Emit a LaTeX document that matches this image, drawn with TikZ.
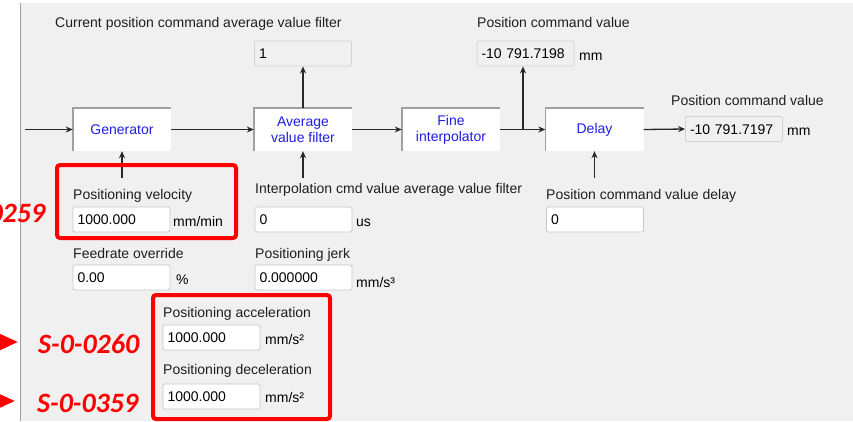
\documentclass[tikz,border=0pt]{standalone}
\usepackage{fontspec}
\setmainfont{Liberation Sans}
\newfontfamily\tagfont{Carlito}
\usetikzlibrary{arrows.meta}
\definecolor{panel}{RGB}{240,240,240}
\definecolor{frameline}{RGB}{160,160,160}
\definecolor{labeltext}{RGB}{30,30,30}
\definecolor{blocktext}{RGB}{30,30,230}
\definecolor{wire}{RGB}{40,40,40}
\definecolor{fieldline}{RGB}{200,200,200}
\definecolor{marker}{RGB}{255,0,0}
\tikzset{
  ui/.style={font=\fontsize{14}{16}\selectfont},
  lbl/.style={ui, text=labeltext, inner sep=0pt, anchor=base west},
  unit/.style={ui, text=black, inner sep=0pt, anchor=base west},
  block/.style={ui, text=blocktext, fill=white, minimum width=98pt, minimum height=43pt,
    inner sep=0pt, align=center},
  field/.style={ui, text=black, fill=white, draw=fieldline, line width=0.8pt, rounded corners=1.5pt,
    text width=88pt, inner xsep=4.5pt, inner ysep=0pt, minimum height=25pt,
    text height=10pt, text depth=0pt, align=left},
  rofield/.style={field, fill=panel, draw=fieldline!80},
  blockedge/.style={draw=frameline, line width=1.5pt},
  flow/.style={draw=wire, line width=1.3pt, -{Stealth[length=7pt,width=6pt]}},
  hilite/.style={draw=marker, line width=4pt, rounded corners=3pt},
  tag/.style={font=\tagfont\bfseries\itshape\fontsize{28}{30}\selectfont, text=marker,
    inner sep=0pt, anchor=base west},
  pointer/.style={draw=marker, line width=4pt, -{Triangle[length=20pt,width=17pt]}}
}
\begin{document}
\begin{tikzpicture}[x=1pt,y=-1pt]
\useasboundingbox (0,0) rectangle (853,421);
\clip (0,0) rectangle (853,421);
% window background and left frame
\fill[white] (0,0) rectangle (853,421);
\fill[panel] (21,3) rectangle (853,421);
\draw[frameline, line width=1.6pt] (20.5,3) -- (20.5,421);

% processing blocks
\node[block] (gen)   at (122,129.5)   {Generator};
\node[block] (avf)   at (303,129.5)   {Average\\value filter};
\node[block] (fine)  at (451,129.5)   {Fine\\interpolator};
\node[block] (delay) at (594.5,129.5) {Delay};
\foreach \b in {gen,avf,fine,delay}
  \draw[blockedge] (\b.south west) |- (\b.north east);

% read-only displays
\node[lbl] (lfilt) at (55,27) {Current position command average value filter};
\node[rofield] (filt) at (303,53.5) {1};
\node[lbl] (lcmd) at (477,27) {Position command value};
\node[rofield] (cmd) at (525.5,53.5) {-10 791.7198};
\node[unit] (ucmd) at (579,60) {mm};
\node[lbl] (lout) at (671,105) {Position command value};
\node[rofield] (out) at (734,129) {-10 791.7197};
\node[unit] (uout) at (787,135) {mm};

% parameter inputs
\node[lbl] (lvel) at (73,199) {Positioning velocity};
\node[field] (vel) at (121.5,219.5) {1000.000};
\node[unit] (uvel) at (173,226) {mm/min};
\node[lbl] (lipo) at (255,193) {Interpolation cmd value average value filter};
\node[field] (ipo) at (303.5,219.5) {0};
\node[unit] (uipo) at (356,226) {us};
\node[lbl] (ldly) at (546,199) {Position command value delay};
\node[field] (dly) at (595,219.5) {0};
\node[lbl] (lfeed) at (73,258) {Feedrate override};
\node[field] (feed) at (121.5,277.5) {0.00};
\node[unit] (ufeed) at (176,284) {\%};
\node[lbl] (ljerk) at (255,258) {Positioning jerk};
\node[field] (jerk) at (303.5,277.5) {0.000000};
\node[unit] (ujerk) at (356,287) {mm/s³};
\node[lbl] (lacc) at (163,317) {Positioning acceleration};
\node[field] (acc) at (211.5,337.5) {1000.000};
\node[unit] (uacc) at (265,344) {mm/s²};
\node[lbl] (ldec) at (163,374) {Positioning deceleration};
\node[field] (dec) at (211.5,396.5) {1000.000};
\node[unit] (udec) at (265,402) {mm/s²};

% signal flow
\coordinate (src) at (25,129.5);
\coordinate (tap) at (523,129.5);
\coordinate (velin) at (122,178);
\coordinate (ipoin) at (303,178);
\coordinate (dlyin) at (594.5,178);
\draw[flow] (src) -- (gen.west);
\draw[flow] (gen.east) -- (avf.west);
\draw[flow] (avf.east) -- (fine.west);
\draw[flow] (fine.east) -- (delay.west);
\draw[flow] (tap) -- (tap |- cmd.south);
\draw[flow] (avf.north) -- (filt.south);
\draw[flow] (delay.east) -- (out.west);
\draw[flow] (velin) -- (gen.south);
\draw[flow] (ipoin) -- (avf.south);
\draw[flow] (dlyin) -- (delay.south);

% parameter highlights
\draw[hilite] (57,165) rectangle (236,238);
\draw[hilite] (153,295) rectangle (330,419);
\node[tag] (t259) at (-56,222) {S-0-0259};
\node[tag] (t260) at (38,353) {S-0-0260};
\node[tag] (t359) at (37,412) {S-0-0359};
\coordinate (p260) at (18,342);
\coordinate (p359) at (15,401);
\draw[pointer] (-40,342) -- (p260);
\draw[pointer] (-40,401) -- (p359);
\end{tikzpicture}
\end{document}
